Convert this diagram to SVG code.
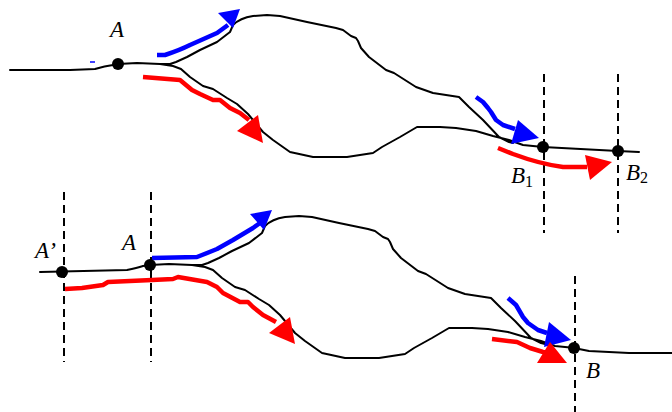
<svg xmlns="http://www.w3.org/2000/svg" xmlns:xlink="http://www.w3.org/1999/xlink" width="672" height="412" viewBox="0 0 672 412">
<style>
.road{fill:none;stroke:#000;stroke-width:2;stroke-linejoin:round;stroke-linecap:round}
.dash{fill:none;stroke:#000;stroke-width:2;stroke-dasharray:8,5}
.blue{fill:none;stroke:#0000FF;stroke-width:4.5;stroke-linejoin:round}
.red{fill:none;stroke:#FF0000;stroke-width:4.5;stroke-linejoin:round}
.bh{fill:#0000FF}
.rh{fill:#FF0000}
.dot{fill:#000}
.lbl{font-family:"Liberation Serif","Times New Roman",serif;font-style:italic;font-size:23px;fill:#000}
.sub{font-size:16px;font-style:normal}
</style>
<defs>
<path id="lens" class="road" d="M118,64 L137,63 L160,64 L170,64 L176,62 L187,57 L200,50 L217,42 L230,32 L233,25 Q240,18 253,16 L267,15 L280,16 L307,22 L336,28 L343,30 L351,36 L356,38 L358,41 L361,48 L369,57 L386,70 L394,73 L416,87 L433,93 L459,97 L469,107 L483,120 L499,137 L509,142 L513,143 M160,64 L173,66 L181,69 L190,77 L203,86 L213,89 L227,98 L237,104 L248,114 L263,132 L273,140 L290,152 L313,157 L347,157 L373,153 L382,147 L400,137 L417,127 L440,127 L456,128 L476,131 L493,136 L509,140 L523,145 L543,147"/>
</defs>
<g id="roads">
<path class="road" d="M10,70 L70,70 L95,69 Q105,66 113,65 L118,64"/>
<use xlink:href="#lens"/>
<path class="road" d="M543,147 L618,151 L639,152"/>
<path class="road" d="M40,272 L127,270 Q137,268 143,266 L150,265"/>
<use xlink:href="#lens" transform="translate(32,201)"/>
<path class="road" d="M574,348 L589,351 L629,353 L672,353"/>
<line x1="90" y1="62" x2="95" y2="62" stroke="#0000FF" stroke-width="1.5"/>
</g>
<g id="sections">
<line class="dash" x1="544" y1="74" x2="544" y2="233"/>
<line class="dash" x1="618" y1="74" x2="618" y2="233"/>
<line class="dash" x1="64" y1="192" x2="64" y2="362"/>
<line class="dash" x1="151" y1="192" x2="151" y2="362"/>
<line class="dash" x1="575" y1="276" x2="575" y2="412"/>
</g>
<g id="connectors">
<path class="blue" d="M157,55 L165,55 Q180,50 190,45 L217,33 L228,25"/>
<polygon class="bh" points="218,13 240,9 233,28"/>
<path class="red" d="M143,77 L180,80 L186,85 L192,90 L200,94 L213,100 L220,100 L230,108 L240,113 L249,120"/>
<polygon class="rh" points="237,131 258,115 263,143"/>
<path class="blue" d="M476,97 L483,102 L488,108 L491,112 L496,120 L503,125 L515,129"/>
<polygon class="bh" points="518,120 539,138 511,144"/>
<path class="red" d="M498,148 L513,154 Q540,164 563,167 L587,167"/>
<polygon class="rh" points="585,155 612,162 590,180"/>
<path class="blue" d="M152,258 L197,257 L217,249 L233,240 L253,228 L260,223"/>
<polygon class="bh" points="250,214 272,210 264,230"/>
<path class="red" d="M65,289 L82,288 L103,285 L108,282 L152,280 L173,279 L178,277 L207,282 L217,287 L223,293 L240,302 L248,302 L253,307 L263,315 L276,322"/>
<polygon class="rh" points="269,333 290,317 295,344"/>
<path class="blue" d="M508,298 L516,305 L523,317 L528,323 L538,330 L547,333"/>
<polygon class="bh" points="549,322 571,340 544,347"/>
<path class="red" d="M492,339 L517,342 L530,348 L543,352 L550,353"/>
<polygon class="rh" points="550,342 537,363 567,363"/>
</g>
<g id="node-A">
<circle class="dot" cx="118" cy="64" r="6"/>
<text class="lbl" x="110" y="37">A</text>
</g>
<g id="node-B1">
<circle class="dot" cx="543" cy="147" r="6"/>
<text class="lbl" x="511" y="183">B<tspan class="sub" dy="4">1</tspan></text>
</g>
<g id="node-B2">
<circle class="dot" cx="618" cy="151" r="6"/>
<text class="lbl" x="626" y="180">B<tspan class="sub" dy="3">2</tspan></text>
</g>
<g id="node-A-prime">
<circle class="dot" cx="62" cy="272" r="6"/>
<text class="lbl" x="35" y="258">A’</text>
</g>
<g id="node-A2">
<circle class="dot" cx="150" cy="265" r="6"/>
<text class="lbl" x="122" y="250">A</text>
</g>
<g id="node-B">
<circle class="dot" cx="574" cy="348" r="6"/>
<text class="lbl" x="586" y="378">B</text>
</g>
</svg>
